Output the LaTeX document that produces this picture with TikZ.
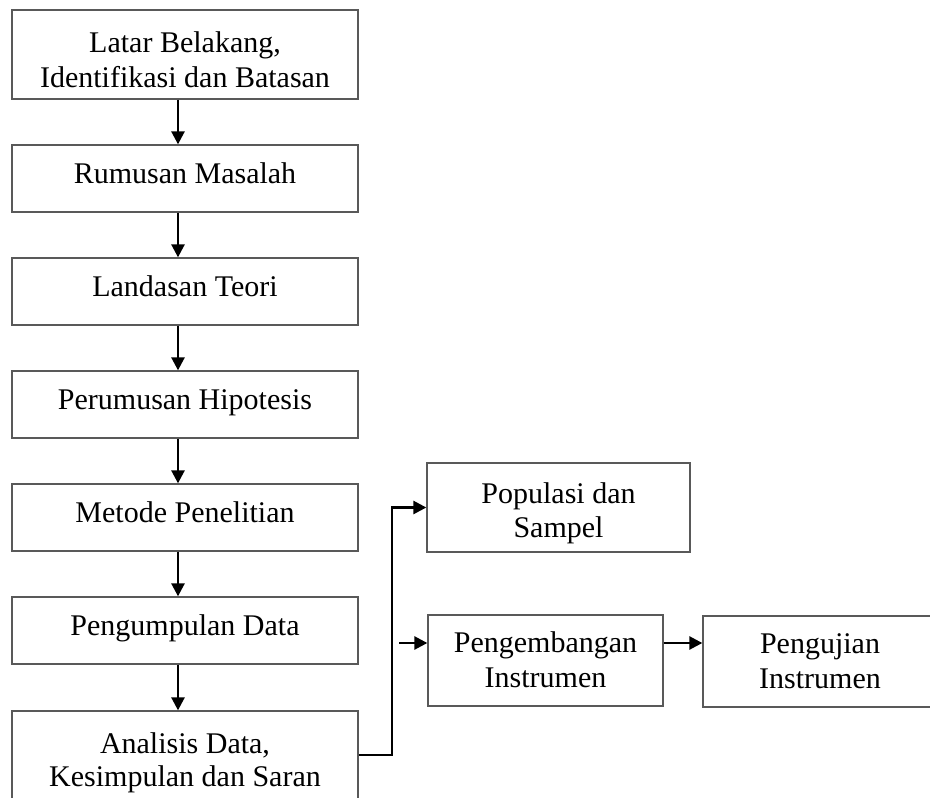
\documentclass[tikz,border=0pt]{standalone}
\usepackage{fontspec}
\setmainfont{Liberation Serif}
\usetikzlibrary{arrows.meta}
\begin{document}
\begin{tikzpicture}[x=1pt,y=-1pt,
  box/.style={draw=black!65,line width=1.3pt,fill=white,inner sep=0pt},
  txt/.style={anchor=base,inner sep=0pt,font=\fontsize{30}{35}\selectfont},
  arr/.style={line width=2.6pt,-{Triangle[length=13pt,width=13pt]}}]
\useasboundingbox (0,0) rectangle (930,798);
% boxes
\node[box,minimum width=346pt,minimum height=89pt] (b1) at (185,54.5) {};
\node[box,minimum width=346pt,minimum height=67pt] (b2) at (185,178.5) {};
\node[box,minimum width=346pt,minimum height=67pt] (b3) at (185,291.5) {};
\node[box,minimum width=346pt,minimum height=67pt] (b4) at (185,404.5) {};
\node[box,minimum width=346pt,minimum height=67pt] (b5) at (185,517.5) {};
\node[box,minimum width=346pt,minimum height=67pt] (b6) at (185,630.5) {};
\node[box,minimum width=346pt,minimum height=89pt] (b7) at (185,755.5) {};
\node[box,minimum width=263pt,minimum height=89pt] (pop) at (558.5,507.5) {};
\node[box,minimum width=235pt,minimum height=91pt] (dev) at (545.5,660.5) {};
\node[box,minimum width=228pt,minimum height=91pt] (uji) at (817,661.5) {};
% texts
\node[txt] (t1a) at (185,52) {Latar Belakang,};
\node[txt] (t1b) at (185,87) {Identifikasi dan Batasan};
\node[txt] (t2) at (185,183) {Rumusan Masalah};
\node[txt] (t3) at (185,296) {Landasan Teori};
\node[txt] (t4) at (185,409) {Perumusan Hipotesis};
\node[txt] (t5) at (185,522) {Metode Penelitian};
\node[txt] (t6) at (185,635) {Pengumpulan Data};
\node[txt] (t7a) at (185,753) {Analisis Data,};
\node[txt] (t7b) at (185,786) {Kesimpulan dan Saran};
\node[txt] (tpa) at (558.5,503) {Populasi dan};
\node[txt] (tpb) at (558.5,537) {Sampel};
\node[txt] (tda) at (545.5,652) {Pengembangan};
\node[txt] (tdb) at (545.5,687) {Instrumen};
\node[txt] (tua) at (820,653) {Pengujian};
\node[txt] (tub) at (820,688) {Instrumen};
% connectors
\foreach \a/\b in {b1/b2,b2/b3,b3/b4,b4/b5,b5/b6,b6/b7}
  \draw[arr] ([xshift=-7pt]\a.south) -- ([xshift=-7pt]\b.north);
\coordinate (j) at (392,755);
\coordinate (r) at (399,643);
\draw[arr] (b7.east |- j) -- (j) -- (j |- pop.west) -- (pop.west);
\draw[arr] (r) -- (r -| dev.west);
\draw[arr] (r -| dev.east) -- (r -| uji.west);
\end{tikzpicture}
\end{document}
